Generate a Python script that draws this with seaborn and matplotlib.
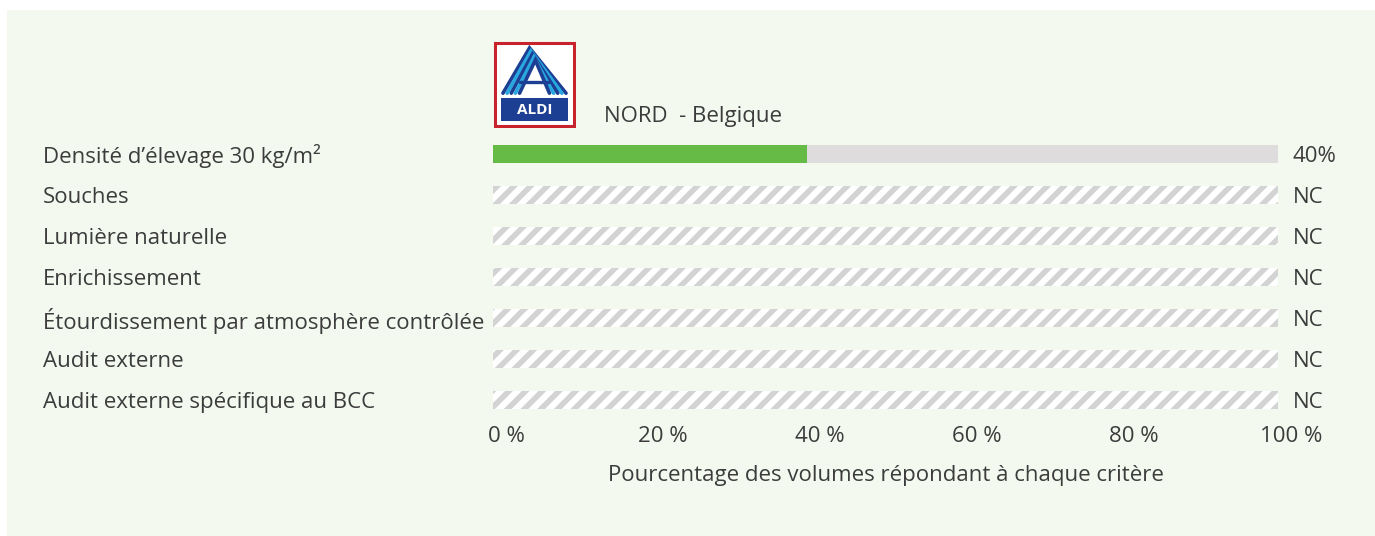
import matplotlib
matplotlib.use('Agg')
import matplotlib.pyplot as plt
from matplotlib.patches import Rectangle
import pandas as pd
import seaborn as sns

# data
criteres = ['Densité d\u2019élevage 30 kg/m²', 'Souches', 'Lumière naturelle', 'Enrichissement',
            'Étourdissement par atmosphère contrôlée', 'Audit externe',
            'Audit externe spécifique au BCC']
valeurs = [40, None, None, None, None, None, None]
etiquettes = ['40%', 'NC', 'NC', 'NC', 'NC', 'NC', 'NC']
ticks = [0, 20, 40, 60, 80, 100]
tick_labels = ['0 %', '20 %', '40 %', '60 %', '80 %', '100 %']
enseigne = 'NORD  - Belgique'
xlabel = 'Pourcentage des volumes répondant à chaque critère'

df = pd.DataFrame({'critere': criteres, 'valeur': valeurs})
df['fond'] = 100
df['nc'] = df['valeur'].isna()

sns.set_theme(style='white')
plt.rcParams['font.family'] = ['Open Sans', 'DejaVu Sans']
plt.rcParams['hatch.linewidth'] = 4
txt = '#3c3c3c'
fs = 16
W, H = 1375, 536

fig = plt.figure(figsize=(W / 100, H / 100), dpi=100)
fig.patch.set_facecolor('white')
fig.patches.append(Rectangle((7 / W, 0), 1 - 7 / W, 1 - 10 / H, transform=fig.transFigure,
                             facecolor='#f3f9ef', edgecolor='none', zorder=-10))

ax = fig.add_axes([493 / W, 1 - 420.5 / H, 785 / W, 287 / H])
ax.set_facecolor('none')

# background bars (gray for known values, hatched for NC)
sns.barplot(data=df, x='fond', y='critere', orient='h', width=0.46, ax=ax,
            color='#dedcdc', saturation=1, linewidth=0)
for p, nc in zip(ax.patches, df['nc']):
    if nc:
        p.set_facecolor('white')
        p.set_edgecolor('#d3d3d3')
        p.set_hatch('//')
        p.set_linewidth(0)

sns.barplot(data=df.fillna(0), x='valeur', y='critere', orient='h', width=0.46, ax=ax,
            color='#66bb47', saturation=1, linewidth=0)

for s in ax.spines.values():
    s.set_visible(False)

ax.set_xlim(0, 100)
ax.set_ylim(6.5, -0.5)

# x tick labels sit a little right of their ticks in the original
ax.set_xticks(ticks)
ax.set_xticklabels([])
ax.tick_params(axis='x', length=0, pad=0)
for t, lab in zip(ticks, tick_labels):
    ax.annotate(lab, xy=(t, 0), xycoords=('data', 'axes fraction'), xytext=(13, -6),
                textcoords='offset pixels', ha='center', va='top', fontsize=fs, color=txt,
                annotation_clip=False)
ax.set_xlabel(xlabel, fontsize=fs, color=txt, labelpad=32)

ax.set_ylabel('')
ax.set_yticks(range(len(criteres)))
ax.set_yticklabels(criteres, fontsize=fs, color=txt, ha='left')
ax.tick_params(axis='y', length=0, pad=324)

for i, e in enumerate(etiquettes):
    ax.text(101.9, i, e, fontsize=fs, color=txt, va='center_baseline', ha='left', clip_on=False)

fig.text(604 / W, 1 - 114 / H, enseigne, fontsize=fs, color=txt, va='center_baseline', ha='left')

# logo
lg = fig.add_axes([493 / W, 1 - 128 / H, 83 / W, 87 / H])
lg.set_xlim(0, 1)
lg.set_ylim(0, 1)
lg.axis('off')
lg.add_patch(Rectangle((0.02, 0.02), 0.96, 0.96, facecolor='white', edgecolor='#c8232c', lw=2.2))
lg.add_patch(Rectangle((0.1, 0.08), 0.8, 0.26, facecolor='#1c3f94', edgecolor='none'))
lg.text(0.5, 0.205, 'ALDI', color='white', fontsize=11, fontweight='bold', ha='center', va='center')
for k, c in enumerate(['#1c3f94', '#27a8e0', '#1c3f94', '#27a8e0', '#1c3f94']):
    d = k * 0.05
    lg.plot([0.12 + d, 0.44 + d * 0.35, 0.88 - d], [0.40, 0.92 - d * 0.7, 0.40], color=c, lw=2.6,
            solid_joinstyle='miter')
lg.plot([0.32, 0.68], [0.53, 0.53], color='#1c3f94', lw=2.4)

fig.savefig('out.png', dpi=100, facecolor=fig.get_facecolor())
